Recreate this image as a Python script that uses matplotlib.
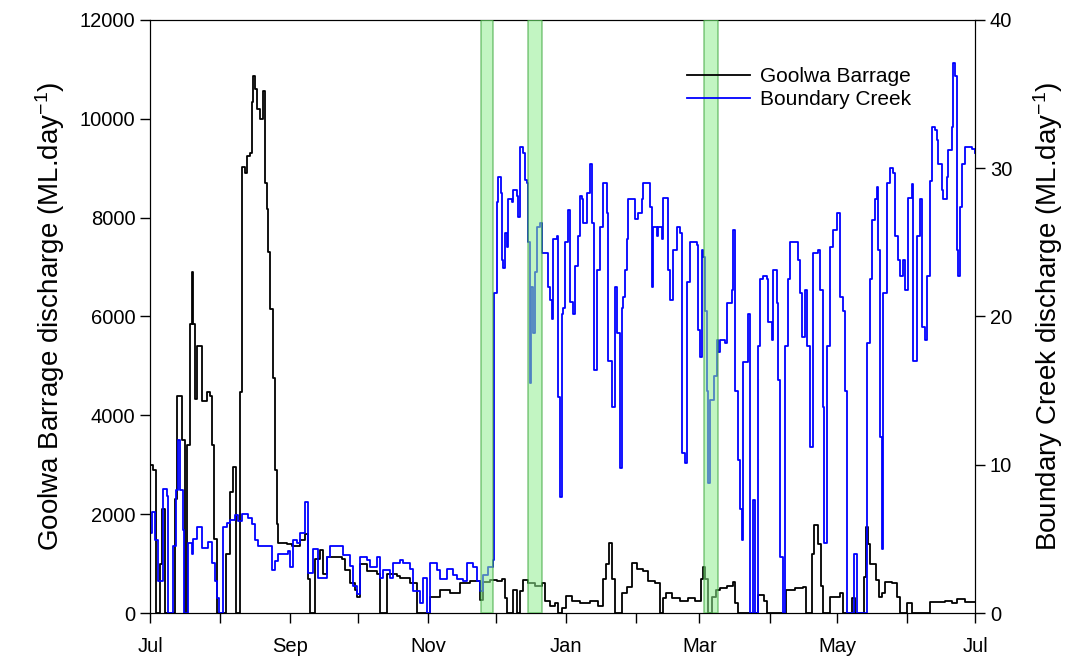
import matplotlib.pyplot as plt

# days since 1 July, and Goolwa Barrage discharge (ML/day)
goolwa_day = [0, 1.3, 2.7, 4.4, 5.3, 6.6, 11, 12, 14.2, 15.5, 16.4, 17.7, 18.6, 19, 19.9, 20.8,
              23, 25.2, 26.5, 27.4, 28.3, 29.6, 33.6, 35.4, 36.7, 38, 39.8, 40.7, 42, 42.9,
              44.2, 45.1, 45.6, 46.5, 47.3, 48.7, 50, 50.9, 51.8, 52.2, 53.1, 54.4, 55.3, 56.2,
              56.6, 60.6, 62.8, 66.4, 68.6, 69.9, 70.8, 73, 75.2, 76.5, 78.3, 85, 86.3, 88.5,
              90.7, 91.6, 92.9, 96, 100.4, 101.8, 103.5, 104.9, 109.3, 110.6, 115, 118.1,
              122.6, 123.9, 128.3, 132.7, 137.2, 141.6, 146, 147.3, 150.4, 153.5, 155.8, 157,
              158, 159.7, 160.6, 162.4, 163.7, 165, 167.3, 170.4, 173.5, 174.8, 177, 179.2,
              180.5, 182.3, 184, 186.7, 190.3, 194.7, 198.2, 200.4, 201.8, 203.1, 204.4, 205.8,
              208, 208.8, 211, 213.3, 215.5, 218.1, 220.4, 223.5, 225.7, 227, 228.3, 231,
              234.5, 238, 241, 243.8, 244.7, 245.6, 246.9, 248.7, 250.4, 252.2, 255.3, 258,
              258.8, 260.2, 269, 271.7, 273, 281.4, 285.4, 289, 290.3, 293, 293.8, 295.6,
              296.9, 297.8, 300.9, 305.3, 306.6, 310.6, 311.9, 315.9, 316.8, 317.7, 318.6,
              321.2, 322.6, 323.9, 325.2, 328.3, 330.5, 331.9, 335, 337.2, 343.8, 345.1,
              351.8, 354.9, 357.1, 360.6, 365]
goolwa = [3000, 2900, 0, 1000, 2100, 0, 2300, 4400, 3500, 0, 3400, 5850, 6900, 5850, 4330, 5400,
          4300, 4470, 4400, 3400, 1500, 0, 1200, 2450, 2960, 0, 4470, 9030, 8900, 9240,
          9300, 10330, 10870, 10600, 10200, 10000, 10550, 8700, 8170, 7300, 6160, 4760, 2900, 1800,
          1420, 1400, 1350, 1480, 1600, 700, 0, 1100, 1270, 800, 1130, 1100, 870, 600,
          470, 330, 1000, 850, 800, 0, 0, 800, 750, 720, 600, 0,
          0, 330, 460, 400, 600, 650, 260, 630, 670, 650, 700, 300,
          0, 0, 470, 0, 450, 680, 600, 550, 600, 250, 150, 200,
          0, 100, 350, 250, 200, 250, 150, 700, 1000, 1420, 700, 0,
          0, 400, 530, 1010, 900, 850, 650, 600, 0, 300, 400, 300,
          250, 300, 250, 700, 940, 700, 0, 330, 460, 500, 550, 630,
          200, 0, 360, 250, 0, 460, 500, 530, 0, 1200, 1780, 1400,
          550, 0, 330, 400, 0, 300, 0, 730, 1740, 1400, 1000,
          670, 330, 400, 630, 600, 330, 0, 200, 0, 0, 230,
          250, 200, 280, 230, 230]

# days since 1 July, and Boundary Creek discharge (ML/day)
creek_day = [0, 0.9, 2.2, 3.5, 4.9, 5.8, 7.5, 8, 9.7, 10.2, 11.5, 12.4, 13.3, 14.6, 15, 16.4,
             16.8, 18.6, 19, 20.8, 23, 25.7, 27.4, 28.8, 29.6, 30.5, 32.3, 34, 35.4, 37.6,
             38.9, 40.7, 43.4, 45.1, 46.5, 47.8, 52.2, 54, 55.3, 56.6, 61, 62, 63.3, 65,
             66.4, 68.6, 69.9, 72.1, 74.3, 76.5, 78.3, 79.6, 84, 85.4, 88.5, 89.8, 91.6,
             92.9, 96, 97.3, 100.4, 101.8, 103, 106.2, 107.5, 110.6, 112, 115, 116.4, 119.5,
             120.8, 122.6, 123.9, 127, 128.3, 131.4, 134.1, 135.8, 138.5, 140.3, 142.9,
             144.7, 146, 147.3, 149.6, 151.8, 152.2, 153.5, 154, 155.3, 155.8, 156.2, 157,
             158, 158.4, 160.2, 160.6, 162.4, 162.8, 163.7, 165, 165.9, 166.8, 167.3, 168.1,
             168.6, 169.5, 170.4, 171.2, 172.6, 173.5, 174.8, 176.1, 177, 177.9, 178.3,
             180.1, 180.5, 181.4, 182.3, 182.7, 183.6, 185, 185.8, 187.2, 188.1, 189.4,
             190.3, 191.2, 191.6, 193.4, 194.7, 195.6, 196.5, 197.8, 199.1, 200.4, 202.2,
             202.7, 204.4, 205.8, 206.6, 208, 208.8, 209.3, 210.2, 211, 211.5, 213.7, 214.6,
             215.9, 217.7, 218.1, 220.4, 221.2, 222.1, 222.6, 224.3, 224.8, 226.5, 227,
             228.8, 229.2, 230.1, 231.4, 233.2, 234.5, 235.4, 236.7, 237.6, 238.9, 242,
             242.5, 243.4, 244.2, 244.7, 245.6, 246.5, 246.9, 247.8, 249.6, 250.9, 251.3,
             252.2, 254.4, 255.3, 257.5, 257.9, 258.8, 260.2, 261.1, 261.9, 262.4, 264.6,
             265.5, 266.8, 267.7, 269, 269.9, 271.2, 272.9, 273.5, 275.2, 275.7, 277.4,
             277.9, 278.8, 280.1, 281, 282.3, 283.2, 285.4, 286.7, 287.6, 288.5, 289.8,
             290.7, 292, 293.4, 295.6, 296.5, 297.8, 298.2, 299.6, 300.9, 302.2, 303.9,
             305.3, 306.6, 307.5, 308.4, 311.1, 311.5, 312.8, 316.8, 317.3, 318.6, 319.5,
             320.8, 321.7, 322.1, 323, 323.9, 324.3, 326.1, 327.4, 328.8, 329.6, 331, 331.9,
             333.2, 334.1, 335.4, 337.2, 337.6, 339.4, 340.7, 341.6, 342.9, 343.8, 345.1,
             346, 347.3, 348.2, 348.7, 350.4, 350.9, 352.7, 353.1, 354.9, 355.3, 356.2,
             357.1, 357.5, 358.4, 359.3, 360.6, 363.7, 365]
creek = [5.4, 6.8, 4.9, 2.2, 2.2, 8.4, 7.9, 0, 0, 4.5, 8.3, 11.7, 8.3, 5.6, 0, 0,
         4.7, 4.0, 5.0, 5.8, 4.4, 4.8, 3.4, 2.2, 1.0, 0, 5.8, 6.1, 6.3, 6.6,
         6.2, 6.7, 6.4, 6.0, 4.9, 4.5, 4.5, 2.9, 3.5, 4.0, 4.2, 3.1, 4.9, 4.7,
         5.4, 7.5, 2.7, 4.3, 2.4, 2.4, 3.8, 4.5, 4.5, 3.9, 3.2, 1.8, 1.3,
         3.8, 3.6, 3.1, 3.8, 2.4, 2.9, 2.4, 3.4, 3.6, 3.4, 3.0, 1.5, 0.7,
         2.4, 0, 3.4, 2.9, 2.3, 3.0, 2.6, 2.3, 2.2, 3.4, 3.1,
         2.2, 1.5, 2.6, 3.1, 3.6, 21.6, 27.7, 29.4, 28.3, 23.8, 23.3, 25.6,
         24.7, 27.9, 27.7, 28.5, 28.1, 26.7, 31.4, 31.0, 29.2, 29.0, 25.0, 15.5,
         22, 18.9, 23, 26.0, 26.3, 24.3, 24.3, 22, 21.1, 19.8, 25.2,
         25.4, 14.6, 7.8, 20.2, 20.6, 25, 27.2, 21, 20.2, 23.4, 25.4,
         28.1, 27.9, 26.3, 28.3, 30.3, 26.3, 16.4, 23.1, 26, 29, 27,
         17, 13.9, 22, 18.9, 9.8, 20.6, 21.3, 23.1, 25.2, 27.9, 27.9, 26.6,
         27, 27.9, 29, 29, 27.4, 22, 26, 25.4, 26, 25.2, 28,
         28, 23.1, 21.1, 24.5, 26, 25.6, 10.8, 10.1, 22.3, 25, 24.8,
         19.1, 17.3, 24.5, 24, 20.4, 15, 8.8, 14.4, 16, 18.4, 17.6,
         18.4, 18.2, 20.9, 21.8, 25.8, 15, 10.3, 7, 4.9, 16.9, 20.2,
         0, 7.6, 0, 18, 22.5, 22.7, 22.5, 19.6, 18.4, 23.1, 20.9,
         15.7, 3.8, 0, 18, 22.5, 25, 25, 23.8, 21.6, 18.6, 21.8,
         18, 11.2, 24.3, 24.5, 21.8, 13.9, 4.7, 18, 24.7, 25.8, 27,
         21.3, 20.4, 15, 0, 0, 4, 0, 0, 18.2, 22.5, 26.5,
         27.9, 28.7, 24.5, 11.9, 4.3, 21.6, 29, 30, 29.7, 25.4, 23.8, 22.7,
         23.8, 21.8, 28, 28.9, 17, 25.4, 27.9, 19.3, 18.4, 22.7, 29.1,
         32.8, 32.6, 31.9, 30.3, 28.5, 27.9, 29.4, 31.2, 32.8, 37.1, 36.2,
         24.5, 22.7, 27.4, 30.3, 31.4, 31.3, 31.0]

# shaded periods (days since 1 July)
band_start = [146.5, 167.3, 245.1]
band_end = [151.8, 173.5, 251.3]

month_days = [0, 31, 62, 92, 123, 153, 184, 215, 243, 274, 304, 335, 365]
month_labels = ['Jul', '', 'Sep', '', 'Nov', '', 'Jan', '', 'Mar', '', 'May', '', 'Jul']

plt.rcParams['font.family'] = ['Liberation Sans', 'DejaVu Sans']
plt.rcParams['mathtext.fontset'] = 'custom'
plt.rcParams['mathtext.rm'] = 'Liberation Sans'
plt.rcParams['mathtext.default'] = 'regular'

fig = plt.figure(figsize=(10.8, 6.6), dpi=100)
ax1 = fig.add_axes([0.139, 0.071, 0.764, 0.899])
ax2 = ax1.twinx()

l1, = ax1.plot(goolwa_day, goolwa, drawstyle='steps-post', color='black', lw=1.3)
l2, = ax2.plot(creek_day, creek, drawstyle='steps-post', color='#0000ff', lw=1.3)

for s, e in zip(band_start, band_end):
    ax2.axvspan(s, e, facecolor='#90ee90', edgecolor='#3aa53a', alpha=0.55, lw=1.2, zorder=5)

ax1.set_xlim(0, 365)
ax1.set_ylim(0, 12000)
ax2.set_ylim(0, 40)
ax1.set_xticks(month_days)
ax1.set_xticklabels(month_labels)
ax1.set_yticks(range(0, 12001, 2000))
ax2.set_yticks(range(0, 41, 10))

for ax in (ax1, ax2):
    ax.tick_params(direction='out', length=7, width=1, labelsize=14.5)
ax1.tick_params(axis='x', pad=10)

ax1.set_ylabel('Goolwa Barrage discharge (ML.day$^{-1}$)', fontsize=20, labelpad=9)
ax2.set_ylabel('Boundary Creek discharge (ML.day$^{-1}$)', fontsize=20, labelpad=14)

ax2.legend([l1, l2], ['Goolwa Barrage', 'Boundary Creek'], loc='upper right',
           bbox_to_anchor=(0.94, 0.945), frameon=False, fontsize=15, handlelength=3.0,
           labelspacing=0.2, borderpad=0.2, handletextpad=0.5)

fig.savefig('out.png', dpi=100)
